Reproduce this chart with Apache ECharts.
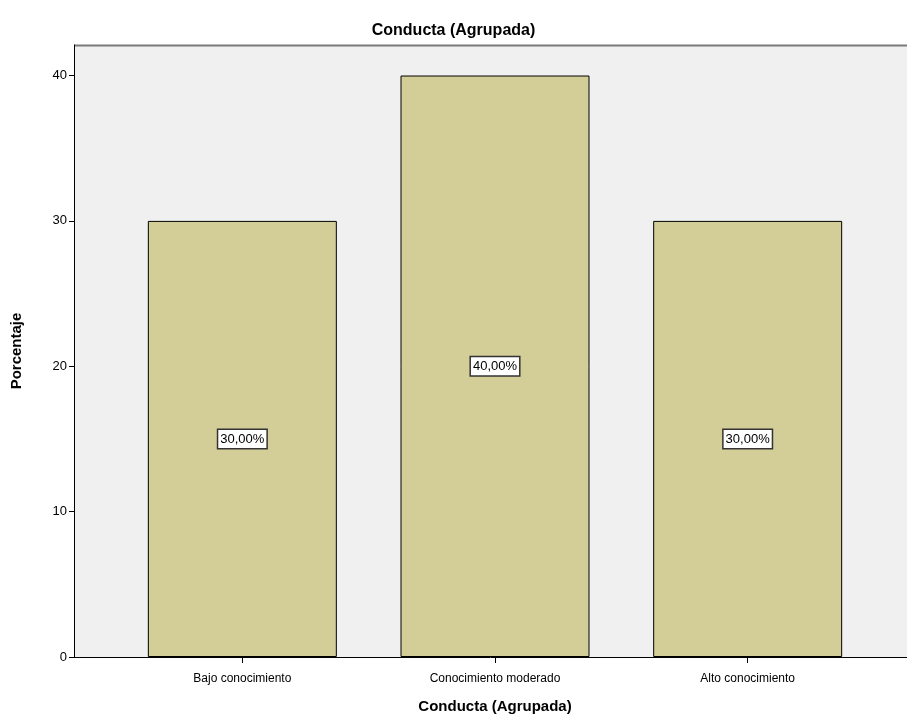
<!DOCTYPE html>
<html>
<head>
<meta charset="utf-8">
<script src="https://cdn.jsdelivr.net/npm/echarts@6/dist/echarts.min.js"></script>
<style>
  html, body { margin: 0; padding: 0; background: #fff; }
  #chart { width: 907px; height: 725px; }
</style>
</head>
<body>
<div id="chart"></div>
<script>
// datos
const categories = ['Bajo conocimiento', 'Conocimiento moderado', 'Alto conocimiento'];
const porcentajes = [30, 40, 30];
const yTicks = [0, 10, 20, 30, 40];

const font = '"Liberation Sans", Arial, sans-serif';

const chart = echarts.init(document.getElementById('chart'));

const option = {
  animation: false,
  backgroundColor: '#fff',
  title: {
    text: 'Conducta (Agrupada)',
    left: 'center',
    top: 18,
    textStyle: { fontFamily: font, fontSize: 16, fontWeight: 'bold', color: '#000' },
  },
  grid: [
    // area completa del grafico (fondo gris)
    { left: 74, right: 0, top: 45, bottom: 68, show: true, backgroundColor: '#f0f0f0', borderWidth: 0 },
    // zona de las barras
    { left: 116, right: 33, top: 45, bottom: 68 },
  ],
  xAxis: [
    {
      gridIndex: 0,
      type: 'value',
      min: 0,
      max: 1,
      axisLine: { show: true, lineStyle: { color: '#000', width: 1 } },
      axisTick: { show: false },
      axisLabel: { show: false },
      splitLine: { show: false },
    },
    {
      gridIndex: 1,
      type: 'category',
      data: categories,
      name: 'Conducta (Agrupada)',
      nameLocation: 'middle',
      nameGap: 42,
      nameTextStyle: { fontFamily: font, fontSize: 15, fontWeight: 'bold', color: '#000' },
      axisLine: { show: false },
      axisTick: { show: true, alignWithLabel: true, length: 6, lineStyle: { color: '#000' } },
      axisLabel: { fontFamily: font, fontSize: 12, color: '#000', margin: 16 },
    },
  ],
  yAxis: [
    {
      gridIndex: 0,
      type: 'value',
      min: 0,
      max: 42.1,
      name: 'Porcentaje',
      nameLocation: 'middle',
      nameGap: 50,
      nameTextStyle: { fontFamily: font, fontSize: 15, fontWeight: 'bold', color: '#000' },
      axisLine: { show: true, lineStyle: { color: '#000', width: 1 } },
      axisTick: { show: true, length: 5, lineStyle: { color: '#000' }, customValues: yTicks },
      axisLabel: { fontFamily: font, fontSize: 13, color: '#000', margin: 7, customValues: yTicks },
      splitLine: { show: false },
    },
    {
      gridIndex: 1,
      type: 'value',
      min: 0,
      max: 42.1,
      show: false,
    },
  ],
  graphic: [
    {
      type: 'line',
      shape: { x1: 74, y1: 45.5, x2: 907, y2: 45.5 },
      style: { stroke: '#7a7a7a', lineWidth: 2 },
    },
  ],
  series: [
    {
      type: 'bar',
      xAxisIndex: 1,
      yAxisIndex: 1,
      data: porcentajes,
      barWidth: 189,
      itemStyle: { color: '#d3cd98', borderColor: '#000', borderWidth: 1 },
      label: {
        show: true,
        position: 'inside',
        formatter: p => p.value.toFixed(2).replace('.', ',') + '%',
        fontFamily: font,
        fontSize: 13,
        color: '#000',
        backgroundColor: '#fff',
        borderColor: '#333',
        borderWidth: 1.5,
        padding: [3, 2, 2, 2],
      },
    },
  ],
};

chart.setOption(option);
</script>
</body>
</html>
